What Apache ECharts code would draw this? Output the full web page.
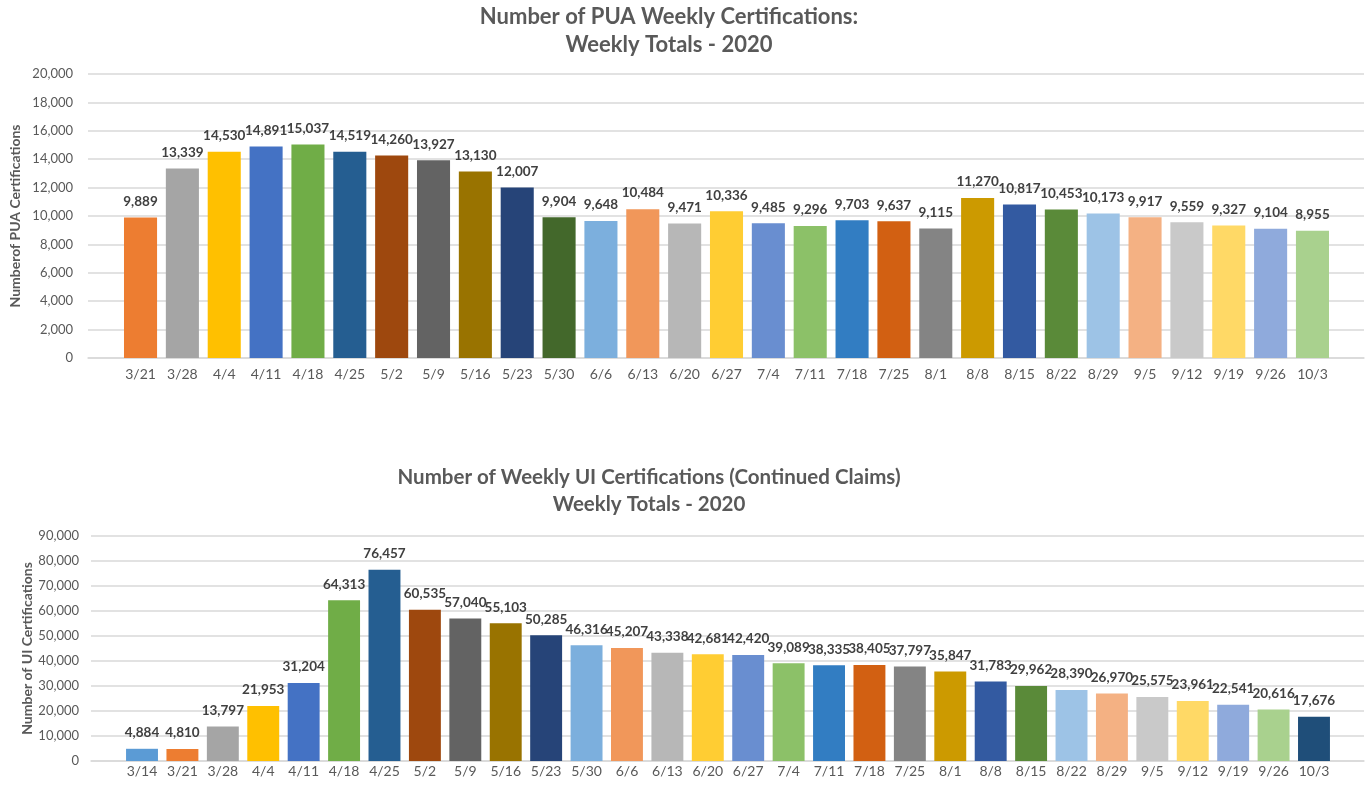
<!DOCTYPE html>
<html>
<head>
<meta charset="utf-8">
<script src="https://cdn.jsdelivr.net/npm/echarts@6/dist/echarts.min.js"></script>
<style>
  html, body { margin: 0; padding: 0; background: #fff; }
  #chart { width: 1368px; height: 789px; }
</style>
</head>
<body>
<div id="chart"></div>
<script>
// PUA weekly certifications (top chart)
const puaWeeks = ['3/21', '3/28', '4/4', '4/11', '4/18', '4/25', '5/2', '5/9', '5/16', '5/23',
  '5/30', '6/6', '6/13', '6/20', '6/27', '7/4', '7/11', '7/18', '7/25', '8/1',
  '8/8', '8/15', '8/22', '8/29', '9/5', '9/12', '9/19', '9/26', '10/3'];
const puaValues = [9889, 13339, 14530, 14891, 15037, 14519, 14260, 13927, 13130, 12007,
  9904, 9648, 10484, 9471, 10336, 9485, 9296, 9703, 9637, 9115,
  11270, 10817, 10453, 10173, 9917, 9559, 9327, 9104, 8955];

// UI continued claims (bottom chart)
const uiWeeks = ['3/14', '3/21', '3/28', '4/4', '4/11', '4/18', '4/25', '5/2', '5/9', '5/16',
  '5/23', '5/30', '6/6', '6/13', '6/20', '6/27', '7/4', '7/11', '7/18', '7/25',
  '8/1', '8/8', '8/15', '8/22', '8/29', '9/5', '9/12', '9/19', '9/26', '10/3'];
const uiValues = [4884, 4810, 13797, 21953, 31204, 64313, 76457, 60535, 57040, 55103,
  50285, 46316, 45207, 43338, 42681, 42420, 39089, 38335, 38405, 37797,
  35847, 31783, 29962, 28390, 26970, 25575, 23961, 22541, 20616, 17676];

const puaTicks = { min: 0, max: 20000, interval: 2000 };
const uiTicks = { min: 0, max: 90000, interval: 10000 };

// office style point colours
const puaColors = ['#ED7D31', '#A5A5A5', '#FFC000', '#4472C4', '#70AD47', '#255E91', '#9E480E', '#636363', '#997300', '#264478',
  '#43682B', '#7CAFDD', '#F1975A', '#B7B7B7', '#FFCD33', '#698ED0', '#8CC168', '#327DC2', '#D26012', '#848484',
  '#CC9A00', '#335AA1', '#5A8A39', '#9DC3E6', '#F4B183', '#C9C9C9', '#FFD966', '#8FAADC', '#A9D18E'];
const uiColors = ['#5B9BD5', '#ED7D31', '#A5A5A5', '#FFC000', '#4472C4', '#70AD47', '#255E91', '#9E480E', '#636363', '#997300',
  '#264478', '#7CAFDD', '#F1975A', '#B7B7B7', '#FFCD33', '#698ED0', '#8CC168', '#327DC2', '#D26012', '#848484',
  '#CC9A00', '#335AA1', '#5A8A39', '#9DC3E6', '#F4B183', '#C9C9C9', '#FFD966', '#8FAADC', '#A9D18E', '#1F4E79'];

const FONT = 'Lato';
const GRAY = '#595959';
const LINE = '#D9D9D9';

var myChart = echarts.init(document.getElementById('chart'), null, { renderer: 'canvas' });

function fmt(v) {
  return Number(v).toLocaleString('en-US');
}

// frame grid: gridlines, y labels, axis name. bar grid: the bars and date labels
function frameY(gridIndex, ticks, name, nameGap, margin) {
  return {
    gridIndex: gridIndex, type: 'value', min: ticks.min, max: ticks.max, interval: ticks.interval,
    name: name, nameLocation: 'middle', nameGap: nameGap, nameMoveOverlap: false,
    nameTextStyle: { fontFamily: FONT, fontSize: 14, fontWeight: 'bold', color: GRAY },
    axisLine: { show: false }, axisTick: { show: false },
    axisLabel: { fontFamily: FONT, fontSize: 13, color: GRAY, margin: margin, formatter: fmt },
    splitLine: { lineStyle: { color: LINE, width: 1.5 } }
  };
}
function barY(gridIndex, ticks) {
  return {
    gridIndex: gridIndex, type: 'value', min: ticks.min, max: ticks.max, interval: ticks.interval,
    show: false, splitLine: { show: false }
  };
}
function frameX(gridIndex) {
  return {
    gridIndex: gridIndex, type: 'value', min: 0, max: 1,
    axisLine: { show: true, onZero: false, lineStyle: { color: LINE, width: 1.5 } },
    axisTick: { show: false }, axisLabel: { show: false }, splitLine: { show: false }
  };
}
function barX(gridIndex, cats, margin) {
  return {
    gridIndex: gridIndex, type: 'category', data: cats,
    axisLine: { show: false }, axisTick: { show: false },
    axisLabel: { interval: 0, fontFamily: FONT, fontSize: 14, color: GRAY, margin: margin }
  };
}
function barSeries(idx, values, colors) {
  return {
    type: 'bar', xAxisIndex: idx, yAxisIndex: idx,
    barCategoryGap: '21%',
    data: values.map((v, i) => ({ value: v, itemStyle: { color: colors[i] } })),
    label: {
      show: true, position: 'top', distance: 9,
      fontFamily: FONT, fontSize: 13.5, fontWeight: 'bold', color: '#404040',
      formatter: (p) => fmt(p.value)
    }
  };
}

const option = {
  backgroundColor: '#fff',
  animation: false,
  title: [
    {
      text: 'Number of PUA Weekly Certifications:\nWeekly Totals - 2020',
      left: 664, top: -2, textAlign: 'center',
      textStyle: { fontFamily: FONT, fontSize: 22, fontWeight: 'bold', color: GRAY, lineHeight: 28 }
    },
    {
      text: 'Number of Weekly UI Certifications (Continued Claims)\nWeekly Totals - 2020',
      left: 644, top: 459, textAlign: 'center',
      textStyle: { fontFamily: FONT, fontSize: 20.5, fontWeight: 'bold', color: GRAY, lineHeight: 27 }
    }
  ],
  grid: [
    { left: 88, right: 4, top: 74, height: 284 },
    { left: 119.6, right: 34.6, top: 74, height: 284 },
    { left: 91, right: 4, top: 536, height: 225 },
    { left: 121.8, right: 33.8, top: 536, height: 225 }
  ],
  xAxis: [
    frameX(0),
    barX(1, puaWeeks, 9),
    frameX(2),
    barX(3, uiWeeks, 3)
  ],
  yAxis: [
    frameY(0, puaTicks, 'Numberof PUA Certifications', 66, 15),
    barY(1, puaTicks),
    frameY(2, uiTicks, 'Number of UI Certifications', 57, 12),
    barY(3, uiTicks)
  ],
  series: [
    barSeries(1, puaValues, puaColors),
    barSeries(3, uiValues, uiColors)
  ]
};

myChart.setOption(option);
</script>
</body>
</html>
